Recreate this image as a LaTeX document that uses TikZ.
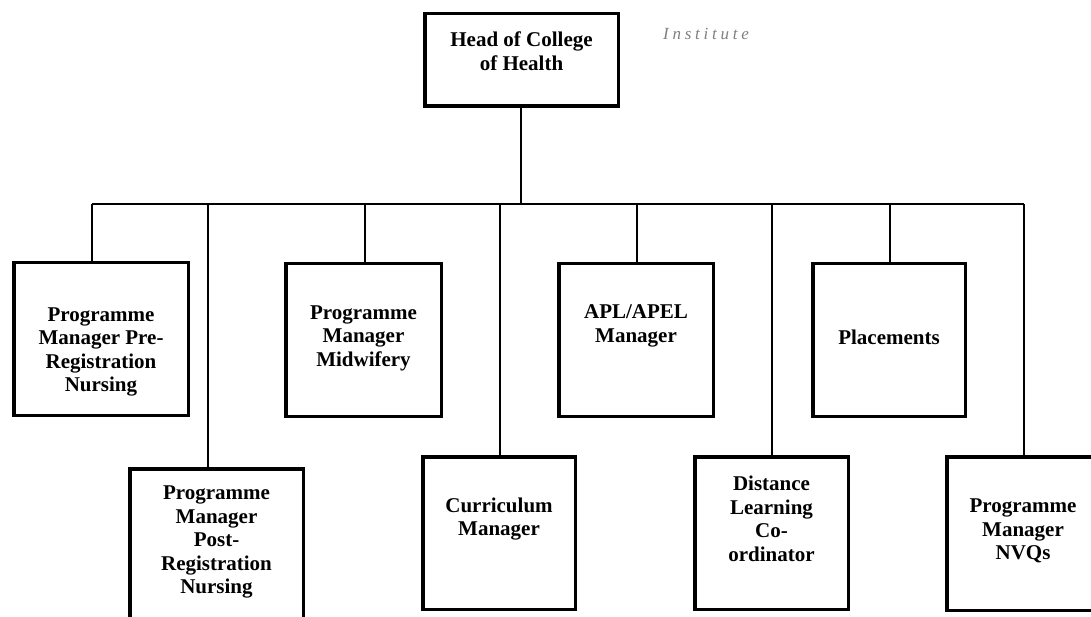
\documentclass[tikz,border=0pt]{standalone}
\usepackage{fontspec}
\setmainfont{Liberation Serif}
\begin{document}
\begin{tikzpicture}[x=1pt,y=-1pt,
  box/.style={draw=black,line width=3.5pt,rectangle,inner sep=0pt,
    minimum width=153pt,minimum height=152.5pt},
  lbl/.style={inner sep=0pt,align=center,
    font=\fontsize{21}{23.5}\selectfont\bfseries},
  link/.style={draw=black,line width=1.2pt},
  scrawl/.style={inner sep=0pt,text=black!50,
    font=\fontsize{17}{17}\selectfont\itshape\addfontfeature{LetterSpace=22}}]
\useasboundingbox (0,0) rectangle (1091,617);

% head of the college
\node[box,minimum width=193.5pt,minimum height=92.5pt] (head) at (521.5,60) {};
\node[lbl] (headt) at (521.5,51) {Head of College\\of Health};
\node[scrawl] (note) at (706,34) {Institute};

% first row
\node[box,minimum width=174.5pt] (pre) at (101,339) {};
\node[lbl] (pret) at (101,352) {Programme\\Manager Pre-\\Registration\\Nursing};
\node[box,minimum width=155.5pt] (mid) at (363.5,340) {};
\node[lbl] (midt) at (363.5,338) {Programme\\Manager\\Midwifery};
\node[box,minimum width=154.5pt] (apl) at (636,340) {};
\node[lbl] (aplt) at (636,326) {APL/APEL\\Manager};
\node[box,minimum width=152.5pt] (place) at (889,340) {};
\node[lbl] (placet) at (889,337) {Placements};

% second row
\node[box,minimum width=173.5pt] (post) at (216.5,545) {};
\node[lbl] (postt) at (216.5,542) {Programme\\Manager\\Post-\\Registration\\Nursing};
\node[box,minimum width=152.5pt] (curr) at (499,533) {};
\node[lbl] (currt) at (499,519) {Curriculum\\Manager};
\node[box,minimum width=153.5pt] (dist) at (771.5,533) {};
\node[lbl] (distt) at (771.5,519) {Distance\\Learning\\Co-\\ordinator};
\node[box,minimum width=152.5pt,minimum height=153.5pt] (nvq) at (1023,533.5) {};
\node[lbl] (nvqt) at (1023,531) {Programme\\Manager\\NVQs};

% the bus and its branch points
\coordinate (hub) at (521,204);
\coordinate (bpre) at (92,204);
\coordinate (bpost) at (208,204);
\coordinate (bmid) at (365,204);
\coordinate (bcurr) at (500,204);
\coordinate (bapl) at (637,204);
\coordinate (bdist) at (772,204);
\coordinate (bplace) at (890,204);
\coordinate (bnvq) at (1024,204);

\draw[link] (head.south -| hub) -- (hub);
\draw[link] (bpre) -- (bnvq);
\foreach \b/\n in {bpre/pre,bpost/post,bmid/mid,bcurr/curr,
                   bapl/apl,bdist/dist,bplace/place,bnvq/nvq}
  \draw[link] (\b) -- (\b |- \n.north);
\end{tikzpicture}
\end{document}
